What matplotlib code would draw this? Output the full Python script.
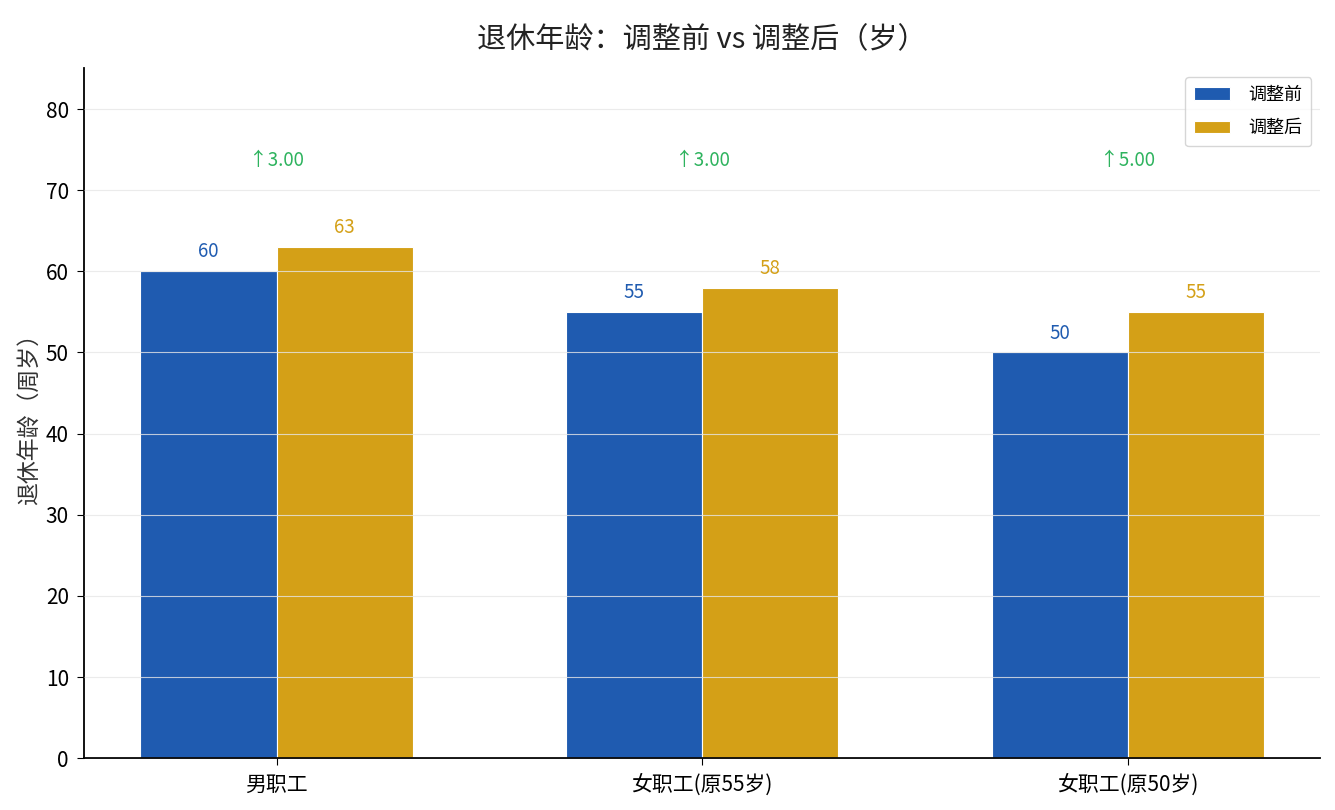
import numpy as np
import matplotlib
matplotlib.use('Agg')
import matplotlib.pyplot as plt

plt.rcParams['font.family'] = ['Noto Sans CJK SC', 'DejaVu Sans']

categories = ['男职工', '女职工(原55岁)', '女职工(原50岁)']
before = [60, 55, 50]
after = [63, 58, 55]
series_names = ['调整前', '调整后']

c_before = '#1f5bb0'
c_after = '#d4a017'
c_diff = '#2eb35e'

fig, ax = plt.subplots(figsize=(13.35, 8.1), dpi=100)
fig.subplots_adjust(left=0.063, right=0.989, top=0.916, bottom=0.064)

x = np.arange(len(categories))
w = 0.32
ax.bar(x - w/2, before, w, color=c_before, edgecolor='white', linewidth=0.8, label=series_names[0])
ax.bar(x + w/2, after, w, color=c_after, edgecolor='white', linewidth=0.8, label=series_names[1])

ymax = max(after) * 1.35
ax.set_ylim(0, ymax)

for xi, v in zip(x - w/2, before):
    ax.text(xi, v + 1.1, str(v), ha='center', va='bottom', color=c_before, fontsize=13.5)
for xi, v in zip(x + w/2, after):
    ax.text(xi, v + 1.1, str(v), ha='center', va='bottom', color=c_after, fontsize=13.5)

diff_y = max(after) * 1.17
for xi, a, b in zip(x, before, after):
    ax.text(xi, diff_y, '↑%.2f' % (b - a), ha='center', va='center', color=c_diff, fontsize=13.5)

ax.set_xticks(x)
ax.set_xticklabels(categories, fontsize=15)
ax.tick_params(axis='y', labelsize=15, length=5, pad=6)
ax.tick_params(axis='x', length=5, pad=6)
ax.set_ylabel('退休年龄（周岁）', fontsize=16.5, color='#333333', labelpad=3)
ax.set_title('退休年龄：调整前 vs 调整后（岁）', fontsize=21, color='#222222', pad=14)

ax.set_axisbelow(False)
ax.yaxis.grid(True, color='#e6e6e6', linewidth=0.8, alpha=0.8)
ax.spines['top'].set_visible(False)
ax.spines['right'].set_visible(False)
ax.spines['left'].set_linewidth(1.3)
ax.spines['bottom'].set_linewidth(1.3)

ax.legend(loc='upper right', fontsize=13, frameon=True, edgecolor='#cccccc',
          handlelength=2.0, handletextpad=1.0, labelspacing=0.85, borderpad=0.5)

plt.savefig('out.png', dpi=100)
plt.close()
